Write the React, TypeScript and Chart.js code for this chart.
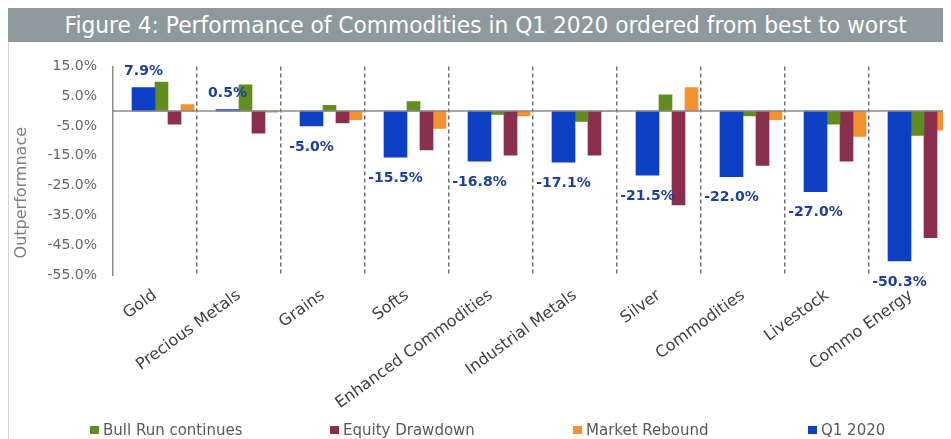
import React, { useEffect, useRef } from 'react';
import { Chart, registerables } from 'chart.js';

Chart.register(...registerables);

// ---------- data ----------
const titleText = 'Figure 4: Performance of Commodities in Q1 2020 ordered from best to worst';
const yAxisTitle = 'Outperformnace';
const categories = [
  'Gold',
  'Precious Metals',
  'Grains',
  'Softs',
  'Enhanced Commodities',
  'Industrial Metals',
  'Silver',
  'Commodities',
  'Livestock',
  'Commo Energy',
];
const q1_2020 = [7.9, 0.5, -5.0, -15.5, -16.8, -17.1, -21.5, -22.0, -27.0, -50.3];
const bullRunContinues = [9.7, 8.8, 1.9, 3.2, -1.1, -3.5, 5.5, -1.6, -4.4, -8.2];
const equityDrawdown = [-4.4, -7.4, -4.0, -13.0, -14.8, -14.8, -31.5, -18.2, -16.8, -42.5];
const marketRebound = [2.2, -0.4, -2.9, -5.8, -1.6, 0, 7.9, -2.9, -8.5, -6.4];
const seriesNames = ['Q1 2020', 'Bull Run continues', 'Equity Drawdown', 'Market Rebound'];
const legendOrder = ['Bull Run continues', 'Equity Drawdown', 'Market Rebound', 'Q1 2020'];
const yTickMin = -55;
const yTickMax = 15;
const yTickStep = 10;

// ---------- styles ----------
const FONT = "'DejaVu Sans', sans-serif";
const COLORS: Record<string, string> = {
  'Q1 2020': '#0E40C6',
  'Bull Run continues': '#5F8D20',
  'Equity Drawdown': '#8A2E4E',
  'Market Rebound': '#F5912F',
};
const LABEL_BLUE = '#1F3F9E';
const legendLefts = [82, 322, 565, 800];

const extrasPlugin = {
  id: 'extras',
  afterDatasetsDraw(chart: any) {
    const { ctx, chartArea } = chart;
    const y = chart.scales.y;
    const y0 = y.getPixelForValue(0);
    ctx.save();
    ctx.strokeStyle = '#8c8c8c';
    ctx.lineWidth = 1.5;
    ctx.beginPath();
    ctx.moveTo(chartArea.left, y0);
    ctx.lineTo(chartArea.right, y0);
    ctx.stroke();
    // data labels for Q1 2020
    const dsIndex = chart.data.datasets.findIndex((d: any) => d.label === 'Q1 2020');
    const meta = chart.getDatasetMeta(dsIndex);
    const values = chart.data.datasets[dsIndex].data as number[];
    ctx.fillStyle = LABEL_BLUE;
    ctx.font = `bold 14px ${FONT}`;
    ctx.textAlign = 'center';
    ctx.textBaseline = 'middle';
    meta.data.forEach((el: any, i: number) => {
      const v = values[i];
      const ty = v >= 0 ? el.y - 16 : el.y + 21;
      ctx.fillText(v.toFixed(1) + '%', el.x, ty);
    });
    // y axis title
    ctx.fillStyle = '#7f7f7f';
    ctx.font = `16px ${FONT}`;
    ctx.translate(chartArea.left - 91, (chartArea.top + chartArea.bottom) / 2 + 22);
    ctx.rotate(-Math.PI / 2);
    ctx.fillText(yAxisTitle, 0, 0);
    ctx.restore();
  },
};

export default function App() {
  const canvasRef = useRef<HTMLCanvasElement | null>(null);
  const titleRef = useRef<HTMLSpanElement | null>(null);

  useEffect(() => {
    if (titleRef.current) {
      const w = titleRef.current.offsetWidth;
      if (w > 0) titleRef.current.style.transform = `scaleX(${842 / w})`;
    }
    if (!canvasRef.current) return;
    const nulls = categories.map(() => null);
    const chart = new Chart(canvasRef.current, {
      type: 'bar',
      data: {
        labels: categories,
        datasets: [
          { label: '', data: nulls, backgroundColor: 'transparent', barThickness: 13, skipNull: false },
          { label: '', data: nulls, backgroundColor: 'transparent', barThickness: 13, skipNull: false },
          { label: seriesNames[0], data: q1_2020, backgroundColor: COLORS[seriesNames[0]], barThickness: 23, borderWidth: 0 },
          { label: seriesNames[1], data: bullRunContinues, backgroundColor: COLORS[seriesNames[1]], barThickness: 13, borderWidth: 0 },
          { label: seriesNames[2], data: equityDrawdown, backgroundColor: COLORS[seriesNames[2]], barThickness: 13, borderWidth: 0 },
          { label: seriesNames[3], data: marketRebound, backgroundColor: COLORS[seriesNames[3]], barThickness: 13, borderWidth: 0 },
        ] as any,
      },
      options: {
        animation: false,
        responsive: true,
        maintainAspectRatio: false,
        layout: { padding: { top: 21, right: 50, left: 0, bottom: 0 } },
        plugins: {
          tooltip: { enabled: false },
          title: { display: false },
          legend: { display: false },
        },
        scales: {
          x: {
            type: 'category',
            offset: true,
            grid: {
              offset: true,
              drawTicks: false,
              lineWidth: 1.5,
              color: (c: any) => (c.index === 0 ? 'transparent' : '#6e6e6e'),
            },
            border: { display: false, dash: [4, 3] },
            ticks: {
              autoSkip: false,
              minRotation: 36,
              maxRotation: 36,
              padding: 11,
              color: '#3f3f3f',
              font: { family: FONT, size: 16 },
            },
            afterFit: (s: any) => {
              s.height = 173;
            },
          },
          y: {
            type: 'linear',
            position: 'left',
            min: yTickMin,
            max: yTickMax,
            ticks: {
              stepSize: yTickStep,
              padding: 16,
              color: '#666666',
              font: { family: FONT, size: 14 },
              callback: (v: any) => Number(v).toFixed(1) + '%',
            },
            grid: { display: false, drawTicks: false },
            border: { display: true, color: '#8c8c8c', width: 1.5 },
            afterFit: (s: any) => {
              s.width = 105;
            },
          },
        },
      } as any,
      plugins: [extrasPlugin],
    });
    return () => chart.destroy();
  }, []);

  return (
    <div style={{ position: 'relative', width: 943, height: 431, overflow: 'hidden', background: '#fff' }}>
      <div
        style={{
          position: 'absolute',
          left: 0,
          top: 0,
          width: 956,
          height: 34,
          background: '#8E999E',
          color: '#fff',
          fontFamily: FONT,
          fontSize: 23,
          lineHeight: '34px',
          textAlign: 'center',
          whiteSpace: 'nowrap',
        }}
      >
        <span ref={titleRef} style={{ display: 'inline-block', transformOrigin: 'center' }}>
          {titleText}
        </span>
      </div>
      <div style={{ position: 'absolute', left: 0, top: 34, width: 1, bottom: 0, background: '#d6d6d6', zIndex: 2 }} />
      <div style={{ position: 'absolute', left: 0, top: 34, width: 995, height: 406 }}>
        <canvas ref={canvasRef} />
      </div>
      {legendOrder.map((name, i) => (
        <div
          key={name}
          style={{
            position: 'absolute',
            left: legendLefts[i],
            top: 413,
            height: 18,
            display: 'flex',
            alignItems: 'center',
            fontFamily: FONT,
            fontSize: 15,
            color: '#595959',
            whiteSpace: 'nowrap',
          }}
        >
          <span style={{ display: 'inline-block', width: 9, height: 8, background: COLORS[name], marginRight: 4 }} />
          <span>{name}</span>
        </div>
      ))}
    </div>
  );
}
